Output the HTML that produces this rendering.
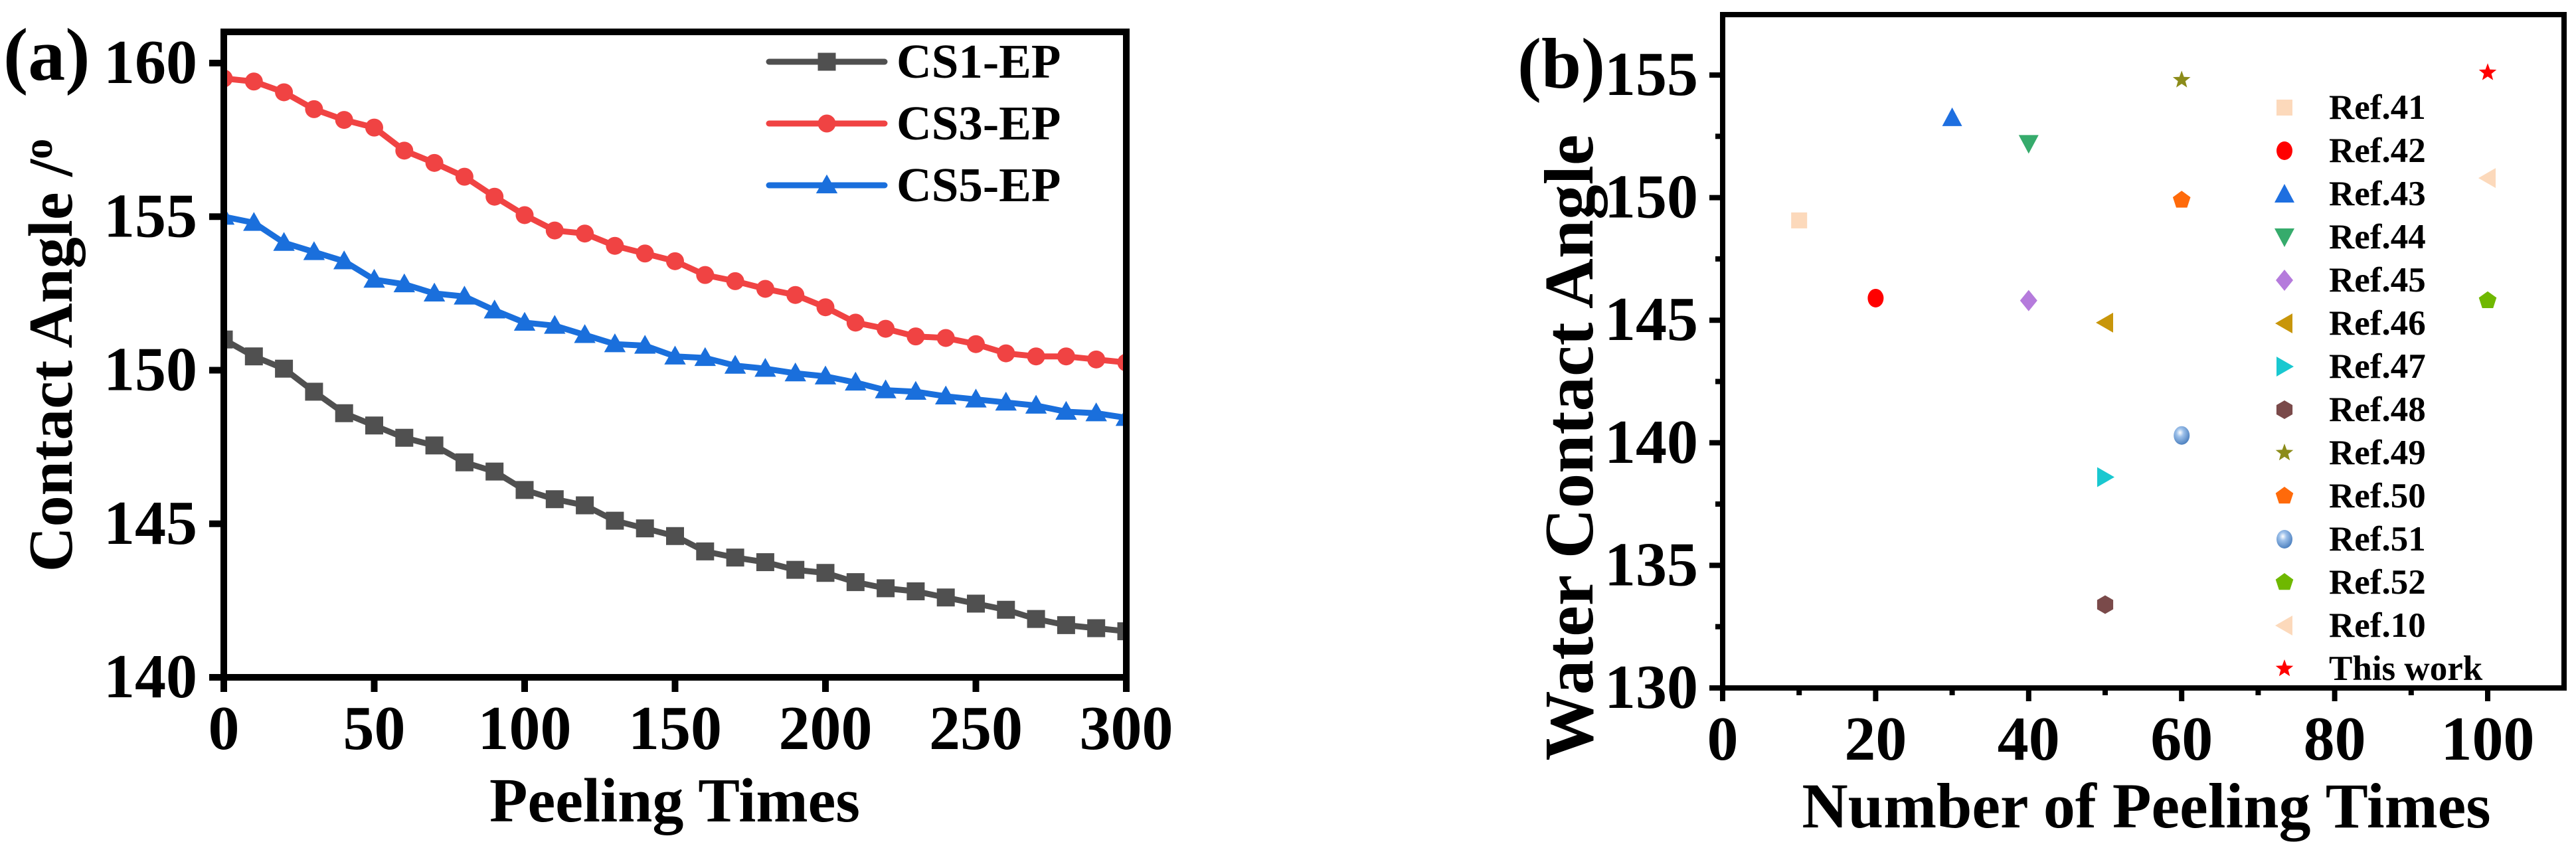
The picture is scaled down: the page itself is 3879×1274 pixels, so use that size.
<!DOCTYPE html>
<html><head><meta charset="utf-8"><style>
html,body{margin:0;padding:0;background:#fff;}
svg{display:block;}
text{font-family:"Liberation Serif",serif;font-weight:bold;fill:#000;}
</style></head><body>
<svg id="chart" width="3879" height="1274" viewBox="0 0 3879 1274" xmlns="http://www.w3.org/2000/svg">
<g id="pa"></g>
<g id="pb"></g>
</svg>
<script>
const aX = [0,10,20,30,40,50,60,70,80,90,100,110,120,130,140,150,160,170,180,190,200,210,220,230,240,250,260,270,280,290,300];
const cs1 = [151.0,150.45,150.05,149.3,148.6,148.2,147.8,147.55,147.0,146.7,146.1,145.8,145.6,145.1,144.85,144.6,144.1,143.9,143.75,143.5,143.4,143.1,142.9,142.8,142.6,142.4,142.2,141.9,141.7,141.6,141.5];
const cs3 = [159.5,159.4,159.05,158.5,158.15,157.9,157.15,156.75,156.3,155.65,155.05,154.55,154.45,154.05,153.8,153.55,153.1,152.9,152.65,152.45,152.05,151.55,151.35,151.1,151.05,150.85,150.55,150.45,150.45,150.35,150.25];
const cs5 = [155.0,154.8,154.15,153.85,153.55,152.95,152.8,152.5,152.4,151.95,151.55,151.45,151.15,150.85,150.8,150.45,150.4,150.15,150.05,149.9,149.8,149.6,149.35,149.3,149.15,149.05,148.95,148.85,148.65,148.6,148.45];
const aXTicks = [0,50,100,150,200,250,300];
const aYTicks = [140,145,150,155,160];

const bNames = ["Ref.41","Ref.42","Ref.43","Ref.44","Ref.45","Ref.46","Ref.47","Ref.48","Ref.49","Ref.50","Ref.51","Ref.52","Ref.10","This work"];
const bX = [10,20,30,40,40,50,50,50,60,60,60,100,100,100];
const bY = [149.07,145.9,153.27,152.2,145.8,144.9,138.6,133.4,154.8,149.9,140.3,145.8,150.8,155.1];
const bXTicks = [0,20,40,60,80,100];
const bYTicks = [130,135,140,145,150,155];

const NS = "http://www.w3.org/2000/svg";
function mk(parent, tag, attrs, txt){
  const e = document.createElementNS(NS, tag);
  for (const k in attrs) e.setAttribute(k, attrs[k]);
  if (txt !== undefined) e.textContent = txt;
  parent.appendChild(e);
  return e;
}
/* ---------- Panel A ---------- */
const pa = document.getElementById('pa');
const A = {l:337, r:1696, t:48, b:1020, x0:0, x1:300};
const ax = v => A.l + (v - A.x0) / (A.x1 - A.x0) * (A.r - A.l);
const ay = v => 1020 - (v - 140) * 46.25;
const aSeries = [
  {name:'CS1-EP', data:cs1, color:'#505050', m:'square'},
  {name:'CS3-EP', data:cs3, color:'#f04343', m:'circle'},
  {name:'CS5-EP', data:cs5, color:'#1a6fdc', m:'tri'}
];
function markerA(g, type, x, y, c, s){
  let e;
  if (type==='square') e = mk(g,'rect',{x:x-s/2,y:y-s/2,width:s,height:s,fill:c});
  else if (type==='circle') e = mk(g,'circle',{cx:x,cy:y,r:s/2,fill:c});
  else e = mk(g,'polygon',{points:`${x},${y-s*0.6} ${x-s*0.6},${y+s*0.45} ${x+s*0.6},${y+s*0.45}`,fill:c});
  return e;
}
const clipA = mk(pa,'clipPath',{id:'clipA'});
mk(clipA,'rect',{x:A.l,y:A.t,width:A.r-A.l,height:A.b-A.t});
aSeries.forEach((s,si)=>{
  const g = mk(pa,'g',{'clip-path':'url(#clipA)'});
  
  
  const pts = s.data.map((v,i)=>ax(aX[i])+','+ay(v)).join(' ');
  const pl = mk(g,'polyline',{points:pts,fill:'none',stroke:s.color,'stroke-width':9,'stroke-linejoin':'round'});
  
  
  s.data.forEach((v,i)=>{
    const m = markerA(g, s.m, ax(aX[i]), ay(v), s.color, 27);
    
    
  });
  const ly = 93 + si*93;
  const lg = mk(pa,'g',{});
  
  
  mk(lg,'line',{x1:1158,y1:ly,x2:1332,y2:ly,stroke:s.color,'stroke-width':9,'stroke-linecap':'round'});
  markerA(lg, s.m, 1245, ly, s.color, 27);
  mk(lg,'text',{x:1350,y:ly+24,'font-size':73}, s.name);
});
const fa = mk(pa,'rect',{x:A.l,y:A.t,width:A.r-A.l,height:A.b-A.t,fill:'none',stroke:'#000','stroke-width':10});


aXTicks.forEach(v=>{
  const x = ax(v);
  mk(pa,'line',{x1:x,y1:A.b,x2:x,y2:A.b+22,stroke:'#000','stroke-width':10});
  const t = mk(pa,'text',{x:x,y:1128,'font-size':94,'text-anchor':'middle'}, String(v));
  
  
});
aYTicks.forEach(v=>{
  const y = ay(v);
  mk(pa,'line',{x1:A.l-22,y1:y,x2:A.l,y2:y,stroke:'#000','stroke-width':10});
  const t = mk(pa,'text',{x:297,y:y+30,'font-size':94,'text-anchor':'end'}, String(v));
  
  
});
let t;
t = mk(pa,'text',{x:1016,y:1237,'font-size':94,'text-anchor':'middle'},'Peeling Times');
 
t = mk(pa,'text',{x:0,y:0,'font-size':94,'text-anchor':'middle',transform:'translate(108,535) rotate(-90)'});
 
t.appendChild(document.createTextNode('Contact Angle /'));
mk(t,'tspan',{dy:-30,'font-size':62},'o');
t = mk(pa,'text',{x:5,y:120,'font-size':112},'(a)');
 

/* ---------- Panel B ---------- */
const pb = document.getElementById('pb');
const B = {l:2594, r:3861, t:22, b:1036};
const bx = v => B.l + v * 11.52;
const by = v => 1036 - (v - 130) * 36.92;
const bStyle = [
  ['square','#fcd9bb'],['circle','#ff0000'],['triup','#1e6fe0'],['tridown','#36ab6c'],
  ['diamond','#b57bdc'],['trileft','#c8960a'],['triright','#19c8d0'],['hexagon','#7a4a4a'],
  ['star','#8c8c1a'],['pentagon','#ff6a0a'],['sphere','#6fa0d8'],['pentagon','#6fb800'],
  ['trileft','#fcd9bb'],['star','#ff0000']
];
const defs = mk(pb,'defs',{});
const rg = mk(defs,'radialGradient',{id:'sph',cx:'0.4',cy:'0.35',r:'0.65'});
mk(rg,'stop',{offset:'0','stop-color':'#ffffff'});
mk(rg,'stop',{offset:'0.35','stop-color':'#9cc0ea'});
mk(rg,'stop',{offset:'1','stop-color':'#4f82c0'});
function poly(n, r, x, y, rot){
  const p=[];
  for(let i=0;i<n;i++){const a=rot+i*2*Math.PI/n; p.push((x+r*Math.cos(a)).toFixed(1)+','+(y+r*Math.sin(a)).toFixed(1));}
  return p.join(' ');
}
function starPts(x,y,R,r){
  const p=[];
  for(let i=0;i<10;i++){const a=-Math.PI/2+i*Math.PI/5; const rr=i%2?r:R; p.push((x+rr*Math.cos(a)).toFixed(1)+','+(y+rr*Math.sin(a)).toFixed(1));}
  return p.join(' ');
}
function markerB(g, type, x, y, c){
  const s = 13;
  switch(type){
    case 'square': return mk(g,'rect',{x:x-s+1,y:y-s+1,width:2*s-2,height:2*s-2,fill:c});
    case 'circle': return mk(g,'ellipse',{cx:x,cy:y,rx:s-1,ry:s+1,fill:c});
    case 'triup': return mk(g,'polygon',{points:`${x},${y-s-2} ${x-s-2},${y+s} ${x+s+2},${y+s}`,fill:c});
    case 'tridown': return mk(g,'polygon',{points:`${x},${y+s+2} ${x-s-2},${y-s} ${x+s+2},${y-s}`,fill:c});
    case 'trileft': return mk(g,'polygon',{points:`${x-s-1},${y} ${x+s-1},${y-s-2} ${x+s-1},${y+s+2}`,fill:c});
    case 'triright': return mk(g,'polygon',{points:`${x+s+1},${y} ${x-s+1},${y-s-2} ${x-s+1},${y+s+2}`,fill:c});
    case 'diamond': return mk(g,'polygon',{points:`${x},${y-s-3} ${x+s},${y} ${x},${y+s+3} ${x-s},${y}`,fill:c});
    case 'hexagon': return mk(g,'polygon',{points:poly(6,s+1,x,y,Math.PI/2),fill:c});
    case 'pentagon': return mk(g,'polygon',{points:poly(5,s+1,x,y,-Math.PI/2),fill:c});
    case 'star': return mk(g,'polygon',{points:starPts(x,y,s+1,s*0.45),fill:c});
    case 'sphere': return mk(g,'ellipse',{cx:x,cy:y,rx:s-1,ry:s+1,fill:'url(#sph)'});
  }
}
bNames.forEach((n,i)=>{
  const [type,c] = bStyle[i];
  const m = markerB(pb, type, bx(bX[i]), by(bY[i]), c);
  
  
  const ly = 162 + i*65;
  const lg = mk(pb,'g',{});
  
  
  markerB(lg, type, 3440, ly, c);
  mk(lg,'text',{x:3507,y:ly+17,'font-size':53}, n);
});
const fb = mk(pb,'rect',{x:B.l,y:B.t,width:B.r-B.l,height:B.b-B.t,fill:'none',stroke:'#000','stroke-width':8});


for (let v=10; v<110; v+=20){
  mk(pb,'line',{x1:bx(v),y1:B.b,x2:bx(v),y2:B.b+11,stroke:'#000','stroke-width':8});
}
for (let v=132.5; v<157; v+=5){
  mk(pb,'line',{x1:B.l-11,y1:by(v),x2:B.l,y2:by(v),stroke:'#000','stroke-width':8});
}
bXTicks.forEach(v=>{
  const x = bx(v);
  mk(pb,'line',{x1:x,y1:B.b,x2:x,y2:B.b+20,stroke:'#000','stroke-width':8});
  const t = mk(pb,'text',{x:x,y:1144,'font-size':94,'text-anchor':'middle'}, String(v));
  
  
});
bYTicks.forEach(v=>{
  const y = by(v);
  mk(pb,'line',{x1:B.l-20,y1:y,x2:B.l,y2:y,stroke:'#000','stroke-width':8});
  const t = mk(pb,'text',{x:2557,y:y+30,'font-size':94,'text-anchor':'end'}, String(v));
  
  
});
t = mk(pb,'text',{x:3232,y:1246,'font-size':96,'text-anchor':'middle'},'Number of Peeling Times');
 
t = mk(pb,'text',{x:0,y:0,'font-size':105,'text-anchor':'middle',transform:'translate(2398,674) rotate(-90)'},'Water Contact Angle');
 
t = mk(pb,'text',{x:2285,y:132,'font-size':108},'(b)');
 
</script>
</body></html>
